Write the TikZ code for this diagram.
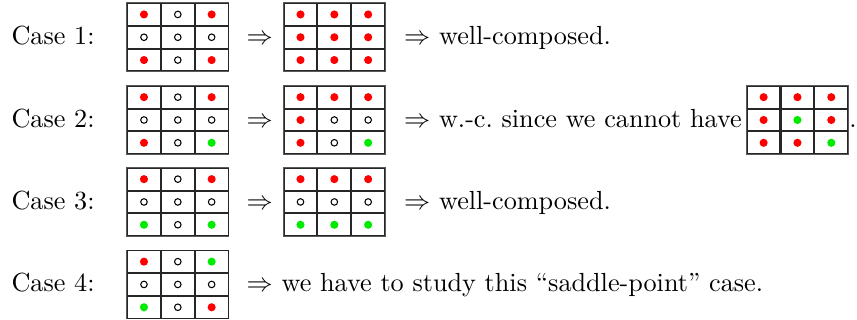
\documentclass[tikz,border=0pt]{standalone}
\usepackage{amsmath}
\usetikzlibrary{positioning,matrix}
\definecolor{dotred}{RGB}{255,0,0}
\definecolor{dotgreen}{RGB}{0,235,0}

\begin{document}
\begin{tikzpicture}[
    cell/.style={rectangle, draw=black!85, line width=0.4pt, minimum width=0.44cm, minimum height=0.292cm, inner sep=0pt, outer sep=0pt},
    pixgrid/.style={matrix of nodes, nodes in empty cells, draw=black!65, line width=0.5pt, inner sep=0pt, column sep=0pt, row sep=0pt, nodes={cell}},
    rd/.style={path picture={\fill[dotred] (path picture bounding box.center) circle (1.55pt);}},
    gr/.style={path picture={\fill[dotgreen] (path picture bounding box.center) circle (1.55pt);}},
    wt/.style={path picture={\draw[black, line width=0.4pt] (path picture bounding box.center) circle (1.25pt);}},
    txt/.style={inner sep=0pt, text height=1.5ex, text depth=.25ex}
]
\useasboundingbox (0,0) rectangle (11.5,-4.293);

% ============ Case 1 ============
\node[txt, anchor=west] (case1) at (0.148,-0.5) {Case 1:};
\matrix (c1a) [pixgrid] at (2.386,-0.5) {
    |[rd]| & |[wt]| & |[rd]| \\
    |[wt]| & |[wt]| & |[wt]| \\
    |[rd]| & |[wt]| & |[rd]| \\
};
\node[txt, right=0.228cm of c1a] (to1) {$\Rightarrow$};
\matrix (c1b) [pixgrid, right=0.127cm of to1] {
    |[rd]| & |[rd]| & |[rd]| \\
    |[rd]| & |[rd]| & |[rd]| \\
    |[rd]| & |[rd]| & |[rd]| \\
};
\node[txt, right=0.24cm of c1b] (res1) {$\Rightarrow$ well-composed.};

% ============ Case 2 ============
\node[txt, anchor=west] (case2) at (0.148,-1.61) {Case 2:};
\matrix (c2a) [pixgrid] at (2.386,-1.61) {
    |[rd]| & |[wt]| & |[rd]| \\
    |[wt]| & |[wt]| & |[wt]| \\
    |[rd]| & |[wt]| & |[gr]| \\
};
\node[txt, right=0.228cm of c2a] (to2) {$\Rightarrow$};
\matrix (c2b) [pixgrid, right=0.127cm of to2] {
    |[rd]| & |[rd]| & |[rd]| \\
    |[rd]| & |[wt]| & |[wt]| \\
    |[rd]| & |[wt]| & |[gr]| \\
};
\node[txt, right=0.24cm of c2b] (res2) {$\Rightarrow$ w.-c.\ since we cannot have};
\matrix (c2c) [pixgrid, right=0.05cm of res2] {
    |[rd]| & |[rd]| & |[rd]| \\
    |[rd]| & |[gr]| & |[rd]| \\
    |[rd]| & |[rd]| & |[gr]| \\
};
\node[txt, right=0pt of c2c] (stop2) {.};

% ============ Case 3 ============
\node[txt, anchor=west] (case3) at (0.148,-2.71) {Case 3:};
\matrix (c3a) [pixgrid] at (2.386,-2.71) {
    |[rd]| & |[wt]| & |[rd]| \\
    |[wt]| & |[wt]| & |[wt]| \\
    |[gr]| & |[wt]| & |[gr]| \\
};
\node[txt, right=0.228cm of c3a] (to3) {$\Rightarrow$};
\matrix (c3b) [pixgrid, right=0.127cm of to3] {
    |[rd]| & |[rd]| & |[rd]| \\
    |[wt]| & |[wt]| & |[wt]| \\
    |[gr]| & |[gr]| & |[gr]| \\
};
\node[txt, right=0.24cm of c3b] (res3) {$\Rightarrow$ well-composed.};

% ============ Case 4 ============
\node[txt, anchor=west] (case4) at (0.148,-3.817) {Case 4:};
\matrix (c4a) [pixgrid] at (2.386,-3.817) {
    |[rd]| & |[wt]| & |[gr]| \\
    |[wt]| & |[wt]| & |[wt]| \\
    |[gr]| & |[wt]| & |[rd]| \\
};
\node[txt, right=0.228cm of c4a] (res4) {$\Rightarrow$ we have to study this ``saddle-point'' case.};

\end{tikzpicture}
\end{document}
